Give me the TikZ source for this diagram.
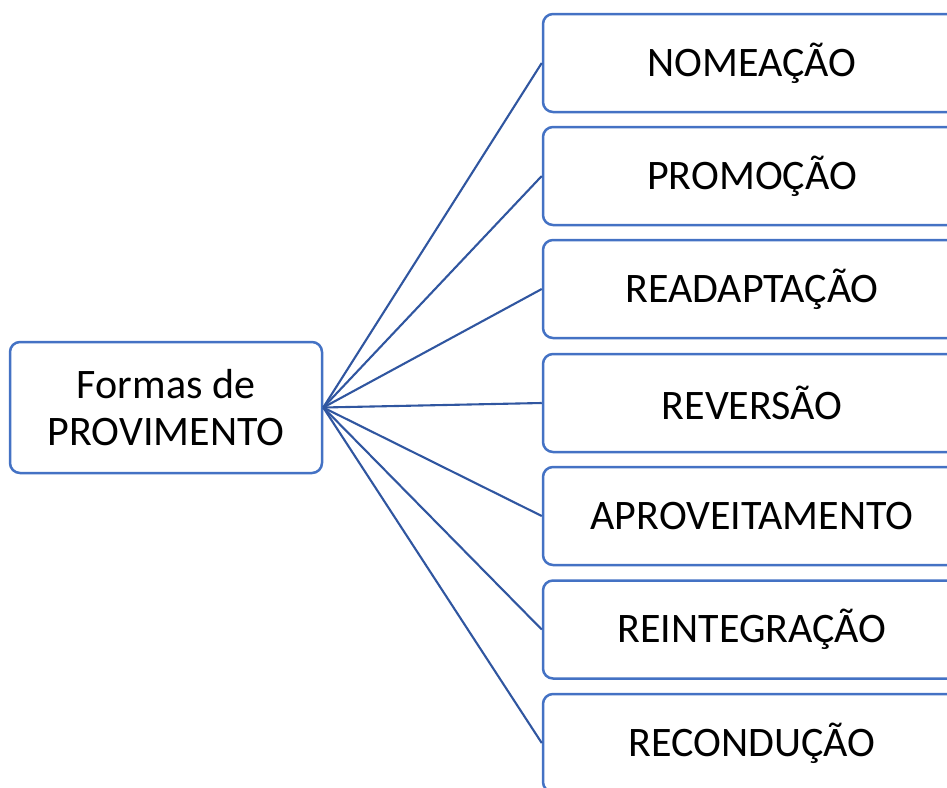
\documentclass[tikz,border=0pt]{standalone}
\usepackage{fontspec}
\setmainfont{Carlito}
\usepackage{xcolor}
\usetikzlibrary{shapes}
\definecolor{boxblue}{HTML}{4472C4}
\definecolor{linkblue}{HTML}{3056A0}

\begin{document}
\begin{tikzpicture}[x=1pt,y=-1pt,
    every node/.style={font=\fontsize{42}{47}\selectfont},
    formbox/.style={draw=boxblue,line width=2.5pt,rounded corners=10pt,fill=white,minimum width=418pt,minimum height=98pt,inner sep=0pt},
    rootbox/.style={draw=boxblue,line width=2.5pt,rounded corners=10pt,fill=white,minimum width=312pt,minimum height=131pt,inner sep=0pt,align=center},
    link/.style={draw=linkblue,line width=2.1pt}]

    \useasboundingbox (0,0) rectangle (947,787);

    %===========================
    % Root
    %===========================
    \draw node (R) at (166,407.5) [rootbox]{Formas de\\PROVIMENTO};

    %===========================
    % Forms
    %===========================
    \draw node (F1) at (752,63) [formbox]{NOMEAÇÃO};
    \draw node (F2) at (752,176) [formbox]{PROMOÇÃO};
    \draw node (F3) at (752,289) [formbox]{READAPTAÇÃO};
    \draw node (F4) at (752,403) [formbox]{REVERSÃO};
    \draw node (F5) at (752,516) [formbox]{APROVEITAMENTO};
    \draw node (F6) at (752,629.5) [formbox]{REINTEGRAÇÃO};
    \draw node (F7) at (752,743) [formbox]{RECONDUÇÃO};

    % Links
    \draw[link] (R.east) to (F1.west);
    \draw[link] (R.east) to (F2.west);
    \draw[link] (R.east) to (F3.west);
    \draw[link] (R.east) to (F4.west);
    \draw[link] (R.east) to (F5.west);
    \draw[link] (R.east) to (F6.west);
    \draw[link] (R.east) to (F7.west);

\end{tikzpicture}
\end{document}
